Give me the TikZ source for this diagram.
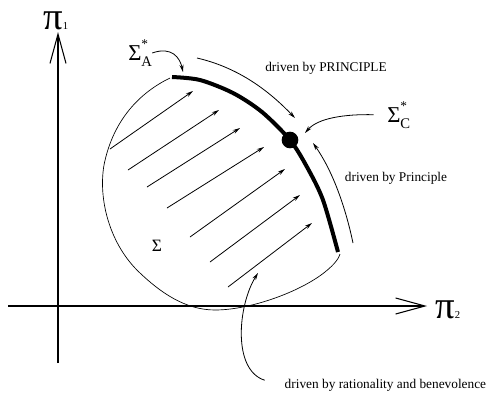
\documentclass[tikz,border=0pt]{standalone}
\usepackage{fontspec}
\setmainfont{Liberation Serif}
\usetikzlibrary{arrows.meta}
\newcommand\sigst[1]{Σ\rlap{\raisebox{9pt}{\fontsize{10}{10}\selectfont *}}\raisebox{-5pt}{\fontsize{11}{11}\selectfont #1}}

\begin{document}
\begin{tikzpicture}[x=0.75pt, y=-0.75pt, >=Stealth, font=\fontsize{10}{12}\selectfont,
  ax/.style={line width=0.8pt, -{Straight Barb[length=22pt, width=12pt]}},
  fl/.style={line width=0.6pt, -{Stealth[length=5.5pt, width=3pt]}},
  sig/.style={inner sep=0pt, font=\fontsize{17}{17}\selectfont},
  pilab/.style={inner sep=0pt, font=\fontsize{29}{29}\selectfont}]
  \useasboundingbox (0,0) rectangle (487,394);
  % axes
  \coordinate (ybot) at (58,363);
  \coordinate (ytop) at (58,32);
  \coordinate (xleft) at (8,306);
  \coordinate (xright) at (427,306);
  \draw[ax] (ybot) -- (ytop);
  \draw[ax] (xleft) -- (xright);
  \node[pilab, anchor=base west] (pione) at (43,29) {π{\fontsize{8}{8}\selectfont 1}};
  \node[pilab, anchor=base west] (pitwo) at (435,318) {π{\fontsize{8}{8}\selectfont 2}};
  % region and frontier
  \draw[line width=0.5pt] (170,78) .. controls (135,95) and (112,125) .. (104,165)
    .. controls (98,200) and (110,245) .. (140,273)
    .. controls (160,292) and (185,310) .. (215,310)
    .. controls (250,310) and (300,292) .. (325,272)
    .. controls (335,264) and (339,258) .. (340,254);
  \draw[line width=3pt] plot[smooth] coordinates {(172,77) (200,80) (233,93) (262,112) (290,140) (307,167) (323,200) (338,252)};
  \node[circle, fill, inner sep=0pt, minimum size=12.5pt] (cstar) at (290,140) {};
  \node[font=\fontsize{13}{13}\selectfont] (sig) at (157,246) {Σ};
  % moves inside the region
  \foreach \x/\y/\u/\v in {110/149/193/91, 128/170/219/110, 147/187/240/128, 167/208/264/147,
      190/237/285/169, 210/262/300/195, 228/287/312/223}
    \draw[fl] (\x,\y) -- (\u,\v);
  % outer arcs
  \coordinate (pa) at (197,58); \coordinate (pb) at (295,118);
  \draw[fl] (pa) .. controls (240,68) and (270,92) .. (pb);
  \coordinate (qa) at (353,243); \coordinate (qb) at (313,143);
  \draw[fl] (qa) .. controls (345,205) and (332,170) .. (qb);
  \node (tpr) at (326,68) {driven by PRINCIPLE};
  \node (tpl) at (396,178) {driven by Principle};
  % labels
  \node[sig, anchor=base west] (siga) at (128,60) {\sigst{A}};
  \node[sig, anchor=base west] (sigc) at (387,122) {\sigst{C}};
  \coordinate (ta) at (183,72);
  \draw[fl] (siga.east) .. controls (172,46) and (180,58) .. (ta);
  \coordinate (tc) at (305,133);
  \draw[fl, shorten <=10pt] (sigc.west) .. controls (345,114) and (318,118) .. (tc);
  \node[anchor=west] (trb) at (280,385) {driven by rationality and benevolence};
  \coordinate (tr) at (258,273);
  \draw[fl, shorten <=12pt] (trb.west) .. controls (232,370) and (238,305) .. (tr);
\end{tikzpicture}
\end{document}
